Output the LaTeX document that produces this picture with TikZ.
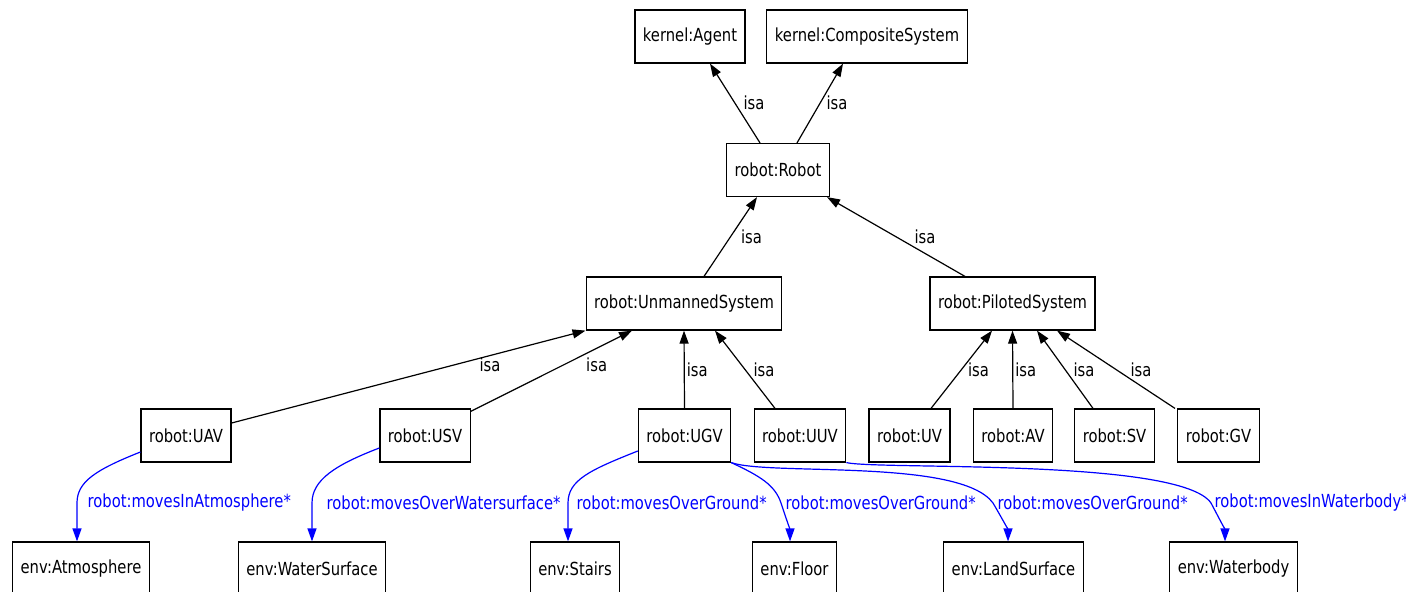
\documentclass[tikz,border=0pt]{standalone}
\usepackage{fontspec}
\setmainfont{DejaVu Sans}[FakeStretch=0.82]
\usetikzlibrary{arrows.meta}
\tikzset{
  cls/.style={draw, line width=0.6pt, inner xsep=4pt, minimum height=26.5pt, font=\fontsize{9}{10}\selectfont},
  isa/.style={line width=0.6pt, -{Triangle[length=6.5pt,width=4.5pt]}},
  rel/.style={blue, line width=0.6pt, -{Triangle[length=6.5pt,width=4.5pt]}},
  lbl/.style={font=\fontsize{9}{10}\selectfont, inner sep=1pt},
}
\begin{document}
\begin{tikzpicture}[x=0.5pt,y=-0.5pt]
\useasboundingbox[fill=white] (0,0) rectangle (1406,591);
% classes
\node[cls] (agent) at (690,36.5) {kernel:Agent};
\node[cls] (comp) at (867,36.5) {kernel:CompositeSystem};
\node[cls] (robot) at (778,170) {robot:Robot};
\node[cls] (unmanned) at (684,303.5) {robot:UnmannedSystem};
\node[cls] (piloted) at (1012.5,303.5) {robot:PilotedSystem};
\node[cls] (uav) at (186,435.5) {robot:UAV};
\node[cls] (usv) at (425,435.5) {robot:USV};
\node[cls] (ugv) at (684.5,435.5) {robot:UGV};
\node[cls] (uuv) at (800,435.5) {robot:UUV};
\node[cls] (uv) at (909.5,435.5) {robot:UV};
\node[cls] (av) at (1013,435.5) {robot:AV};
\node[cls] (sv) at (1114.5,435.5) {robot:SV};
\node[cls] (gv) at (1218.5,435.5) {robot:GV};
\node[cls] (atmos) at (81,568.5) {env:Atmosphere};
\node[cls] (watersurf) at (312,568.5) {env:WaterSurface};
\node[cls] (stairs) at (575,568.5) {env:Stairs};
\node[cls] (floor) at (794.5,568.5) {env:Floor};
\node[cls] (landsurf) at (1013.5,568.5) {env:LandSurface};
\node[cls] (waterbody) at (1233.5,568.5) {env:Waterbody};
% isa
\draw[isa] ([shift={(-18,0)}]robot.north) -- node[lbl,right=3pt] {isa} ([shift={(20,0)}]agent.south);
\draw[isa] ([shift={(19,0)}]robot.north) -- node[lbl,right=2pt] {isa} ([shift={(-24,0)}]comp.south);
\draw[isa] ([shift={(20,0)}]unmanned.north) -- node[lbl,right=4pt] {isa} ([shift={(-21,0)}]robot.south);
\draw[isa] ([shift={(-47.5,0)}]piloted.north) -- node[lbl,right=8pt] {isa} ([shift={(49,0)}]robot.south);
\draw[isa] ([shift={(0,-12.5)}]uav.east) -- node[lbl,below,pos=.73] {isa} (unmanned.south west);
\draw[isa] ([shift={(0,3)}]usv.north east) -- node[lbl,below right,pos=.7] {isa} ([shift={(-52,0)}]unmanned.south);
\draw[isa] (ugv.north) -- node[lbl,right] {isa} (unmanned.south);
\draw[isa] ([shift={(-25,0)}]uuv.north) -- node[lbl,right=3pt] {isa} ([shift={(31,0)}]unmanned.south);
\draw[isa] ([shift={(21.5,0)}]uv.north) -- node[lbl,right=2pt] {isa} ([shift={(-20.5,0)}]piloted.south);
\draw[isa] (av.north) -- node[lbl,right] {isa} (piloted.south);
\draw[isa] ([shift={(-21.5,0)}]sv.north) -- node[lbl,right=3pt] {isa} ([shift={(24.5,0)}]piloted.south);
\draw[isa] ([shift={(-43.5,0)}]gv.north) -- node[lbl,right=6pt] {isa} ([shift={(44.5,0)}]piloted.south);
% moves*
\draw[rel] ([shift={(0,16.5)}]uav.west) .. controls (95,470) and (77,482) .. (77,503)
  node[lbl,right=4pt] {robot:movesInAtmosphere*} -- ([shift={(-4,0)}]atmos.north);
\draw[rel] ([shift={(0,12.5)}]usv.west) .. controls (335,465) and (312,480) .. (312,503)
  node[lbl,right=6pt] {robot:movesOverWatersurface*} -- (watersurf.north);
\draw[rel] ([shift={(0,15.5)}]ugv.west) .. controls (590,470) and (568,480) .. (568,503)
  node[lbl,right=3pt] {robot:movesOverGround*} -- ([shift={(-7,0)}]stairs.north);
\draw[rel] (ugv.south east) .. controls (760,476) and (775,485) .. (781,503)
  node[lbl,right=1pt] {robot:movesOverGround*} .. controls (786,518) and (790,530) .. ([shift={(-4.5,0)}]floor.north);
\draw[rel] (ugv.south east) .. controls (770,476) and (960,458) .. (993,503)
  node[lbl,right=1pt] {robot:movesOverGround*} .. controls (1003,520) and (1008,530) .. ([shift={(-5.5,0)}]landsurf.north);
\draw[rel] (uuv.south east) .. controls (880,470) and (1180,458) .. (1211,503)
  node[lbl,right=0.5pt] {robot:movesInWaterbody*} .. controls (1220,520) and (1225,530) .. ([shift={(-8.5,0)}]waterbody.north);
\end{tikzpicture}
\end{document}
